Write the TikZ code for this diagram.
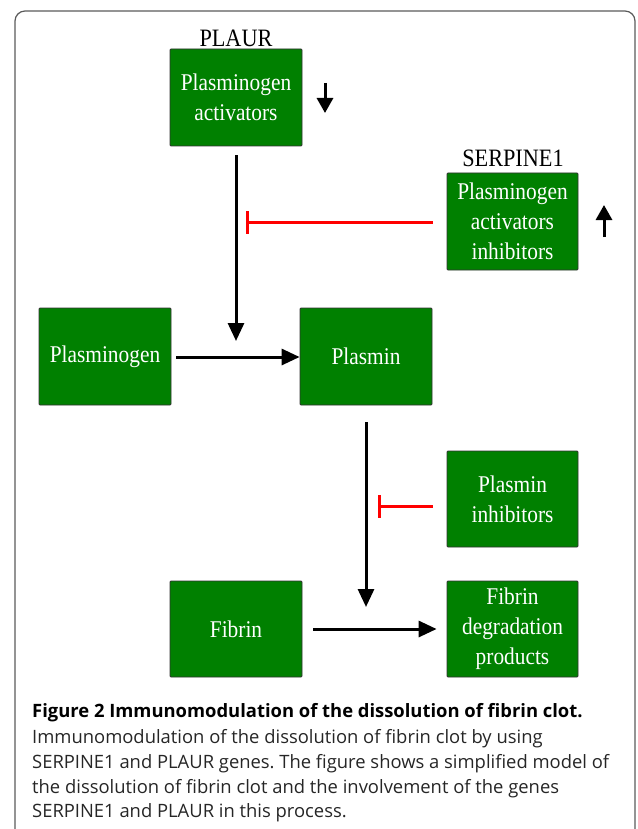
\documentclass[tikz,border=0pt]{standalone}
\usepackage{fontspec}
\setmainfont{Liberation Serif}
\newfontfamily\boxfont[FakeStretch=0.89]{Liberation Serif}
\newfontfamily\capfont{Open Sans}
\usetikzlibrary{arrows.meta}
\definecolor{boxgreen}{RGB}{0,128,0}
\definecolor{framegray}{RGB}{90,90,90}
\frenchspacing
\begin{document}
\begin{tikzpicture}[x=1pt,y=-1pt,
  gbox/.style={draw=black!80, line width=0.8pt, fill=boxgreen, rounded corners=1pt,
    text=white, font=\boxfont\fontsize{24}{30}\selectfont, align=center,
    inner sep=0pt, minimum height=97pt, minimum width=132pt},
  gene/.style={font=\boxfont\fontsize{25}{30}\selectfont, inner sep=0pt, anchor=base},
  arr/.style={line width=3pt, -{Triangle[length=18pt,width=16pt]}},
  smallarr/.style={line width=3pt, -{Triangle[length=15pt,width=16pt]}},
  inh/.style={red, line width=3pt, -{Bar[width=23pt,line width=3pt]}},
  captext/.style={font=\capfont\fontsize{18.4}{20}\selectfont, inner sep=0pt, anchor=base west, text=black!85}]
\clip (0,0) rectangle (637,829);
\draw[framegray, line width=1.2pt, rounded corners=10pt] (15,880) -- (15,11) -- (635,11) -- (635,880);

% boxes
\node[gbox] (pa) at (236,97.5) {Plasminogen\\activators};
\node[gbox, minimum width=131pt] (pai) at (512.5,221.5) {Plasminogen\\activators\\inhibitors};
\node[gbox] (pgn) at (105,356.5) {Plasminogen};
\node[gbox] (pls) at (366,356.5) {Plasmin};
\node[gbox, minimum width=131pt, minimum height=96pt] (pinh) at (512.5,499) {Plasmin\\inhibitors};
\node[gbox, minimum height=96pt] (fib) at (236,629) {Fibrin};
\node[gbox, minimum width=131pt, minimum height=96pt] (fdp) at (512.5,629) {Fibrin\\degradation\\products};

% gene labels
\node[gene] (plaur) at (236,46.5) {PLAUR};
\node[gene] (serp) at (513,166.5) {SERPINE1};

% free ends
\coordinate (j1) at (236,341);
\coordinate (i1) at (246,222);
\coordinate (j2) at (366,607);
\coordinate (i2) at (378,506);
\coordinate (dn1) at (325,83);
\coordinate (dn2) at (325,113);
\coordinate (up1) at (604,237);
\coordinate (up2) at (604,205);

% connectors
\draw[arr] ([yshift=-9pt]pa.south) -- (j1);
\draw[inh] ([xshift=-14pt,yshift=-0.5pt]pai.west) -- (i1);
\draw[arr] ([xshift=5pt,yshift=-0.5pt]pgn.east) -- ([yshift=-0.5pt]pls.west);
\draw[arr] ([yshift=-17pt]pls.south) -- (j2);
\draw[inh] ([xshift=-14pt,yshift=-7pt]pinh.west) -- (i2);
\draw[arr] ([xshift=11pt]fib.east) -- ([xshift=-10pt]fdp.west);

% up/down regulation marks
\draw[smallarr] (dn1) -- (dn2);
\draw[smallarr] (up1) -- (up2);

% caption
\node[captext, text=black] (c1) at (32,717) {\textbf{Figure 2 Immunomodulation of the dissolution of fibrin clot.}};
\node[captext] (c2) at (32,743) {Immunomodulation of the dissolution of fibrin clot by using};
\node[captext] (c3) at (32,768) {SERPINE1 and PLAUR genes. The figure shows a simplified model of};
\node[captext] (c4) at (32,793) {the dissolution of fibrin clot and the involvement of the genes};
\node[captext] (c5) at (32,817) {SERPINE1 and PLAUR in this process.};
\end{tikzpicture}
\end{document}
